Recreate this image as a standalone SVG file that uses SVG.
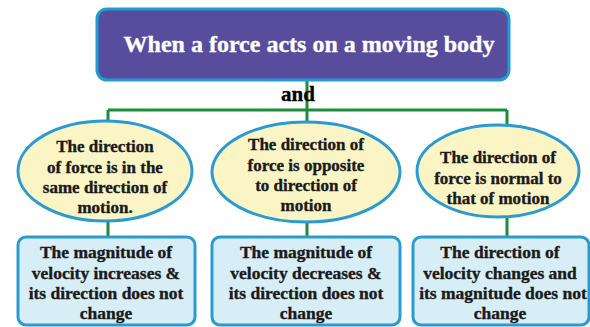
<svg xmlns="http://www.w3.org/2000/svg" width="590" height="327" viewBox="0 0 590 327" font-family="Liberation Serif, serif">
<style>
.t{font-weight:bold;text-anchor:middle;fill:#1a1a1a;stroke:#1a1a1a;stroke-width:0.35}
.ell{fill:#fbf5c6;stroke:#2a9bd2;stroke-width:3}
.box{fill:#d7eef6;stroke:#2a9bd2;stroke-width:3}
.ln{stroke:#1d8c3c;stroke-width:3;fill:none}
</style>
<rect width="590" height="327" fill="#ffffff"/>
<g id="connectors">
<path class="ln" d="M307 80V110M108 110H507M108 110V122M307 110V122M507 110V125M108 221V237M307 222V237M507 217V237"/>
</g>
<g id="title">
<rect x="97" y="9" width="412" height="71" rx="10" fill="#574d9c" stroke="#1f9dd2" stroke-width="3"/>
<text class="t" x="309" y="52" font-size="24" style="fill:#ffffff;stroke:#ffffff">When a force acts on a moving body</text>
</g>
<g id="and-label">
<text class="t" x="298" y="101" font-size="21" style="fill:#000;stroke:#000">and</text>
</g>
<g id="cause1">
<ellipse class="ell" cx="105" cy="171" rx="87" ry="50"/>
<text class="t" font-size="17" x="105" y="152">The direction</text>
<text class="t" font-size="17" x="105" y="172.5">of force is in the</text>
<text class="t" font-size="17" x="105" y="193">same direction of</text>
<text class="t" font-size="17" x="105" y="213">motion.</text>
</g>
<g id="cause2">
<ellipse class="ell" cx="306" cy="172" rx="94" ry="50"/>
<text class="t" font-size="17" x="306" y="150">The direction of</text>
<text class="t" font-size="17" x="306" y="170.5">force is opposite</text>
<text class="t" font-size="17" x="306" y="191">to direction of</text>
<text class="t" font-size="17" x="306" y="211">motion</text>
</g>
<g id="cause3">
<ellipse class="ell" cx="498" cy="171" rx="81" ry="46"/>
<text class="t" font-size="17" x="498" y="163">The direction of</text>
<text class="t" font-size="17" x="498" y="183.5">force is normal to</text>
<text class="t" font-size="17" x="498" y="204">that of motion</text>
</g>
<g id="effect1">
<rect class="box" x="18" y="237" width="177" height="88" rx="8"/>
<text class="t" font-size="17.5" x="106" y="258">The magnitude of</text>
<text class="t" font-size="17.5" x="106" y="278.5">velocity increases &amp;</text>
<text class="t" font-size="17.5" x="106" y="299">its direction does not</text>
<text class="t" font-size="17.5" x="106" y="319">change</text>
</g>
<g id="effect2">
<rect class="box" x="212" y="237" width="188" height="88" rx="8"/>
<text class="t" font-size="17.5" x="306" y="258">The magnitude of</text>
<text class="t" font-size="17.5" x="306" y="278.5">velocity decreases &amp;</text>
<text class="t" font-size="17.5" x="306" y="299">its direction does not</text>
<text class="t" font-size="17.5" x="306" y="319">change</text>
</g>
<g id="effect3">
<rect class="box" x="413" y="237" width="176" height="88" rx="8"/>
<text class="t" font-size="17.5" x="500" y="258">The direction of</text>
<text class="t" font-size="17.5" x="500" y="278.5">velocity changes and</text>
<text class="t" font-size="17.5" x="503" y="299">its magnitude does not</text>
<text class="t" font-size="17.5" x="500" y="319">change</text>
</g>
</svg>
